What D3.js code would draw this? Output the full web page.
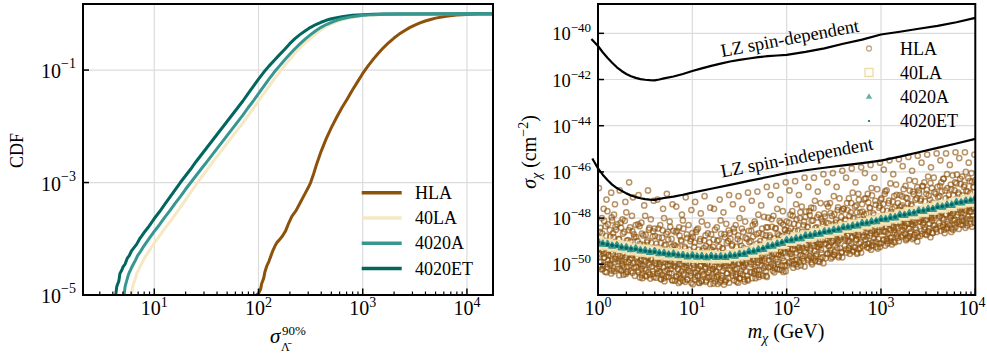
<!DOCTYPE html>
<html><head><meta charset="utf-8">
<script src="https://cdn.jsdelivr.net/npm/d3@7"></script>
<style>
body{margin:0;background:#fff}
svg{display:block}
text{font-family:"Liberation Serif","Times New Roman",serif;fill:#000}
</style>
</head><body>
<script>
// ---------------- DATA ----------------
const seriesNames = ["HLA", "40LA", "4020A", "4020ET"];
const seriesColors = ["#8c510a", "#f6e8c3", "#35978f", "#01665e"];

// Left panel: CDF curves as [log10(sigma90), log10(CDF)]
const cdfHLA = [[1.98,-5.0],[2.0,-4.97],[2.02,-4.9],[2.03,-4.8],[2.05,-4.7],[2.06,-4.6],[2.08,-4.48],[2.10,-4.4],[2.12,-4.3],[2.14,-4.2],[2.16,-4.12],[2.18,-4.06],[2.20,-4.02],[2.23,-3.95],[2.26,-3.86],[2.29,-3.72],[2.32,-3.6],[2.36,-3.5],[2.40,-3.36],[2.44,-3.22],[2.48,-3.08],[2.50,-3.0],[2.53,-2.84],[2.56,-2.66],[2.60,-2.45],[2.65,-2.22],[2.70,-2.02],[2.75,-1.84],[2.80,-1.67],[2.85,-1.52],[2.90,-1.36],[2.95,-1.21],[3.00,-1.06],[3.05,-0.93],[3.10,-0.81],[3.15,-0.70],[3.20,-0.60],[3.25,-0.51],[3.30,-0.43],[3.35,-0.36],[3.40,-0.30],[3.45,-0.245],[3.50,-0.20],[3.55,-0.16],[3.60,-0.127],[3.65,-0.10],[3.70,-0.076],[3.80,-0.043],[3.90,-0.022],[4.00,-0.01],[4.10,-0.004],[4.25,-0.001]];
const cdf40LA = [[0.78,-5.0],[0.79,-4.88],[0.80,-4.8],[0.82,-4.7],[0.83,-4.62],[0.85,-4.55],[0.87,-4.47],[0.89,-4.4],[0.92,-4.3],[0.95,-4.22],[0.98,-4.13],[1.01,-4.05],[1.05,-3.95],[1.10,-3.82],[1.15,-3.7],[1.20,-3.57],[1.25,-3.44],[1.30,-3.31],[1.35,-3.17],[1.40,-3.04],[1.45,-2.91],[1.50,-2.79],[1.55,-2.66],[1.60,-2.54],[1.65,-2.42],[1.70,-2.3],[1.75,-2.18],[1.80,-2.06],[1.85,-1.94],[1.90,-1.81],[1.95,-1.68],[2.00,-1.55],[2.05,-1.42],[2.10,-1.29],[2.15,-1.16],[2.20,-1.04],[2.25,-0.92],[2.30,-0.81],[2.35,-0.7],[2.40,-0.6],[2.45,-0.51],[2.50,-0.43],[2.55,-0.35],[2.60,-0.285],[2.65,-0.225],[2.70,-0.18],[2.75,-0.14],[2.80,-0.107],[2.90,-0.062],[3.00,-0.035],[3.10,-0.019],[3.20,-0.01],[3.35,-0.004],[3.6,-0.001],[4.25,0]];
const cdf4020A = [[0.71,-5.0],[0.72,-4.85],[0.73,-4.78],[0.75,-4.65],[0.76,-4.6],[0.78,-4.52],[0.80,-4.45],[0.82,-4.38],[0.84,-4.3],[0.87,-4.22],[0.90,-4.13],[0.93,-4.05],[0.96,-3.97],[1.00,-3.87],[1.05,-3.75],[1.10,-3.62],[1.15,-3.5],[1.20,-3.37],[1.25,-3.25],[1.30,-3.12],[1.35,-3.0],[1.40,-2.88],[1.45,-2.76],[1.50,-2.64],[1.55,-2.52],[1.60,-2.4],[1.65,-2.28],[1.70,-2.16],[1.75,-2.04],[1.80,-1.92],[1.85,-1.8],[1.90,-1.67],[1.95,-1.55],[2.00,-1.42],[2.05,-1.29],[2.10,-1.16],[2.15,-1.04],[2.20,-0.93],[2.25,-0.82],[2.30,-0.72],[2.35,-0.62],[2.40,-0.53],[2.45,-0.445],[2.50,-0.37],[2.55,-0.3],[2.60,-0.24],[2.65,-0.19],[2.70,-0.15],[2.75,-0.115],[2.80,-0.088],[2.90,-0.05],[3.00,-0.027],[3.10,-0.014],[3.20,-0.007],[3.35,-0.003],[3.6,-0.001],[4.25,0]];
const cdf4020ET = [[0.63,-5.0],[0.64,-4.85],[0.66,-4.75],[0.67,-4.62],[0.69,-4.55],[0.70,-4.5],[0.72,-4.45],[0.74,-4.35],[0.76,-4.3],[0.78,-4.22],[0.80,-4.17],[0.83,-4.1],[0.86,-4.0],[0.88,-3.95],[0.91,-3.87],[0.94,-3.8],[0.97,-3.72],[1.00,-3.64],[1.05,-3.52],[1.10,-3.39],[1.15,-3.26],[1.20,-3.13],[1.25,-3.0],[1.30,-2.88],[1.35,-2.76],[1.40,-2.63],[1.45,-2.51],[1.50,-2.39],[1.55,-2.27],[1.60,-2.15],[1.65,-2.03],[1.70,-1.91],[1.75,-1.79],[1.80,-1.67],[1.85,-1.55],[1.90,-1.42],[1.95,-1.29],[2.00,-1.16],[2.05,-1.04],[2.10,-0.93],[2.15,-0.83],[2.20,-0.73],[2.25,-0.635],[2.30,-0.53],[2.35,-0.44],[2.40,-0.365],[2.45,-0.3],[2.50,-0.24],[2.55,-0.19],[2.60,-0.15],[2.65,-0.115],[2.70,-0.087],[2.80,-0.05],[2.90,-0.027],[3.00,-0.014],[3.10,-0.007],[3.20,-0.003],[3.40,-0.001],[4.25,0]];

const leftXTickExps = [1, 2, 3, 4];
const leftYTickExps = [-1, -3, -5];
const rightXTickExps = [0, 1, 2, 3, 4];
const rightYTickExps = [-40, -42, -44, -46, -48, -50];

// Right panel: LZ limits as [log10(m GeV), log10(sigma cm^2)]
const lzSD = [[-0.07,-40.25],[0.0,-40.55],[0.05,-40.82],[0.1,-41.06],[0.15,-41.27],[0.2,-41.47],[0.25,-41.63],[0.3,-41.76],[0.35,-41.86],[0.4,-41.93],[0.45,-41.98],[0.5,-42.01],[0.55,-42.03],[0.6,-42.04],[0.65,-42.0],[0.7,-41.95],[0.8,-41.87],[0.9,-41.76],[1.0,-41.63],[1.1,-41.52],[1.2,-41.41],[1.3,-41.31],[1.4,-41.22],[1.5,-41.15],[1.6,-41.09],[1.7,-41.03],[1.8,-40.99],[1.9,-40.96],[2.0,-40.93],[2.2,-40.8],[2.4,-40.65],[2.6,-40.45],[2.8,-40.27],[3.0,-40.05],[3.2,-39.93],[3.4,-39.8],[3.6,-39.68],[3.8,-39.52],[4.0,-39.33]];
const lzSI = [[-0.06,-45.42],[0.0,-45.85],[0.05,-46.12],[0.1,-46.35],[0.15,-46.55],[0.2,-46.7],[0.25,-46.82],[0.3,-46.93],[0.35,-47.02],[0.4,-47.09],[0.45,-47.14],[0.5,-47.18],[0.55,-47.2],[0.6,-47.21],[0.65,-47.17],[0.7,-47.13],[0.8,-47.07],[0.9,-46.99],[1.0,-46.9],[1.2,-46.73],[1.4,-46.56],[1.6,-46.39],[1.8,-46.22],[2.0,-46.05],[2.2,-45.93],[2.4,-45.82],[2.6,-45.72],[2.8,-45.62],[3.0,-45.51],[3.2,-45.34],[3.4,-45.15],[3.6,-44.96],[3.8,-44.77],[4.0,-44.57]];

// Band series (40LA, 4020A, 4020ET): log10 mass grid and log10 sigma values
const bandLogM = [0,0.05,0.1,0.15,0.2,0.25,0.3,0.35,0.4,0.45,0.5,0.55,0.6,0.65,0.7,0.75,0.8,0.85,0.9,0.95,1,1.05,1.1,1.15,1.2,1.25,1.3,1.35,1.4,1.45,1.5,1.55,1.6,1.65,1.7,1.75,1.8,1.85,1.9,1.95,2,2.05,2.1,2.15,2.2,2.25,2.3,2.35,2.4,2.45,2.5,2.55,2.6,2.65,2.7,2.75,2.8,2.85,2.9,2.95,3,3.05,3.1,3.15,3.2,3.25,3.3,3.35,3.4,3.45,3.5,3.55,3.6,3.65,3.7,3.75,3.8,3.85,3.9,3.95,4];
const sig40LA = [-49.01,-49.15,-49.12,-49.22,-49.18,-49.28,-49.24,-49.38,-49.34,-49.43,-49.38,-49.47,-49.43,-49.56,-49.51,-49.60,-49.54,-49.62,-49.57,-49.69,-49.63,-49.70,-49.63,-49.70,-49.63,-49.73,-49.66,-49.71,-49.61,-49.64,-49.53,-49.59,-49.47,-49.48,-49.34,-49.34,-49.21,-49.24,-49.11,-49.10,-48.96,-48.97,-48.85,-48.90,-48.78,-48.79,-48.67,-48.68,-48.57,-48.62,-48.51,-48.52,-48.40,-48.41,-48.30,-48.35,-48.24,-48.25,-48.13,-48.14,-48.03,-48.09,-47.97,-47.99,-47.86,-47.88,-47.76,-47.82,-47.70,-47.72,-47.59,-47.61,-47.49,-47.55,-47.43,-47.45,-47.32,-47.34,-47.22,-47.28,-47.16];
const sig4020A = [-49.03,-49.12,-49.13,-49.21,-49.19,-49.28,-49.28,-49.36,-49.33,-49.41,-49.41,-49.48,-49.45,-49.53,-49.52,-49.59,-49.55,-49.62,-49.61,-49.67,-49.62,-49.68,-49.66,-49.71,-49.65,-49.70,-49.67,-49.70,-49.62,-49.64,-49.57,-49.57,-49.46,-49.46,-49.37,-49.35,-49.23,-49.21,-49.12,-49.09,-48.97,-48.97,-48.89,-48.88,-48.77,-48.77,-48.70,-48.69,-48.59,-48.59,-48.52,-48.51,-48.41,-48.41,-48.34,-48.33,-48.23,-48.23,-48.16,-48.15,-48.05,-48.06,-47.98,-47.98,-47.87,-47.88,-47.80,-47.80,-47.69,-47.70,-47.62,-47.62,-47.51,-47.52,-47.44,-47.44,-47.33,-47.34,-47.26,-47.26,-47.15];
const sig4020ET = [-49.05,-49.10,-49.15,-49.18,-49.21,-49.26,-49.30,-49.33,-49.35,-49.39,-49.43,-49.45,-49.47,-49.51,-49.54,-49.56,-49.57,-49.60,-49.63,-49.64,-49.64,-49.66,-49.68,-49.68,-49.67,-49.68,-49.69,-49.67,-49.64,-49.62,-49.59,-49.54,-49.48,-49.44,-49.39,-49.32,-49.25,-49.19,-49.14,-49.06,-48.99,-48.95,-48.91,-48.85,-48.79,-48.75,-48.72,-48.66,-48.61,-48.57,-48.54,-48.48,-48.43,-48.39,-48.36,-48.30,-48.25,-48.21,-48.18,-48.12,-48.07,-48.04,-48.00,-47.95,-47.89,-47.86,-47.82,-47.77,-47.71,-47.68,-47.64,-47.59,-47.53,-47.50,-47.46,-47.41,-47.35,-47.32,-47.28,-47.23,-47.17];

// HLA scatter: [log10(m GeV), log10(sigma cm^2)]
const hlaPoints = [
[0.01,-49.5],[0.03,-49.9],[0.05,-50.2],[0.07,-49.7],[0.09,-50.35],[0.11,-49.6],[0.13,-50.05],[0.15,-49.8],[0.17,-50.3],[0.19,-49.45],[0.02,-50.1],[0.06,-49.55],[0.10,-50.0],[0.14,-50.4],[0.18,-49.9],[0.12,-49.35],
[0.02,-48.6],[0.04,-48.0],[0.08,-48.35],[0.10,-47.7],[0.13,-48.8],[0.15,-48.1],[0.17,-47.85],[0.19,-48.5],[0.06,-47.6],[0.16,-48.65],
[0.01,-46.7],[0.09,-47.2],[0.14,-46.9],[0.18,-47.4],
[0.21,-49.6],[0.23,-50.2],[0.25,-49.85],[0.27,-50.45],[0.29,-49.7],[0.31,-50.1],[0.33,-49.55],[0.35,-50.3],[0.37,-49.95],[0.39,-50.5],[0.22,-49.75],[0.26,-50.05],[0.30,-50.35],[0.34,-49.8],[0.38,-50.15],[0.36,-49.6],
[0.22,-48.9],[0.24,-48.2],[0.28,-48.6],[0.30,-47.75],[0.32,-48.95],[0.34,-48.4],[0.36,-47.9],[0.38,-48.7],[0.26,-48.05],[0.40,-48.3],
[0.23,-46.8],[0.29,-47.3],[0.33,-46.45],[0.37,-47.1],
[0.41,-49.75],[0.43,-50.35],[0.45,-50.0],[0.47,-50.6],[0.49,-49.8],[0.51,-50.25],[0.53,-49.7],[0.55,-50.45],[0.57,-50.1],[0.59,-50.55],[0.42,-49.9],[0.46,-50.2],[0.50,-50.5],[0.54,-49.95],[0.58,-50.3],[0.56,-49.75],
[0.42,-49.0],[0.44,-48.35],[0.48,-48.75],[0.50,-47.9],[0.52,-49.05],[0.54,-48.5],[0.56,-48.05],[0.58,-48.8],[0.46,-48.2],[0.60,-48.45],
[0.43,-47.0],[0.49,-47.45],[0.53,-46.8],[0.59,-47.25],
[0.61,-49.85],[0.63,-50.4],[0.65,-50.1],[0.67,-50.65],[0.69,-49.9],[0.71,-50.3],[0.73,-49.8],[0.75,-50.55],[0.77,-50.2],[0.79,-50.7],[0.62,-50.0],[0.66,-50.35],[0.70,-50.6],[0.74,-50.05],[0.78,-50.4],[0.76,-49.85],
[0.62,-49.1],[0.64,-48.45],[0.68,-48.85],[0.70,-48.0],[0.72,-49.15],[0.74,-48.6],[0.76,-48.15],[0.78,-48.9],[0.66,-48.3],[0.80,-48.55],
[0.63,-47.2],[0.69,-47.6],[0.73,-46.95],[0.79,-47.4],
[0.81,-49.95],[0.83,-50.5],[0.85,-50.2],[0.87,-50.75],[0.89,-50.0],[0.91,-50.4],[0.93,-49.9],[0.95,-50.65],[0.97,-50.3],[0.99,-50.8],[0.82,-50.1],[0.86,-50.45],[0.90,-50.7],[0.94,-50.15],[0.98,-50.5],[0.96,-49.95],
[0.82,-49.2],[0.84,-48.55],[0.88,-48.95],[0.90,-48.1],[0.92,-49.25],[0.94,-48.7],[0.96,-48.3],[0.98,-49.0],[0.86,-48.4],[1.00,-48.65],
[0.83,-47.5],[0.89,-47.85],[0.93,-47.1],[0.99,-47.65],
[1.01,-50.0],[1.03,-50.55],[1.05,-50.25],[1.07,-50.8],[1.09,-50.05],[1.11,-50.45],[1.13,-49.95],[1.15,-50.7],[1.17,-50.35],[1.19,-50.85],[1.02,-50.15],[1.06,-50.5],[1.10,-50.75],[1.14,-50.2],[1.18,-50.55],[1.16,-50.0],
[1.02,-49.25],[1.04,-48.6],[1.08,-49.0],[1.10,-48.15],[1.12,-49.3],[1.14,-48.75],[1.16,-48.3],[1.18,-49.05],[1.06,-48.45],[1.20,-48.7],
[1.03,-47.3],[1.09,-47.8],[1.13,-47.05],[1.19,-47.55],
[1.21,-50.05],[1.23,-50.6],[1.25,-50.3],[1.27,-50.85],[1.29,-50.0],[1.31,-50.5],[1.33,-49.95],[1.35,-50.75],[1.37,-50.4],[1.39,-50.8],[1.22,-50.2],[1.26,-50.55],[1.30,-50.7],[1.34,-50.15],[1.38,-50.6],[1.36,-50.05],
[1.22,-49.25],[1.24,-48.5],[1.28,-48.95],[1.30,-48.1],[1.32,-49.3],[1.34,-48.7],[1.36,-48.25],[1.38,-49.0],[1.26,-48.4],[1.40,-48.65],
[1.23,-47.6],[1.29,-47.2],[1.33,-47.75],[1.39,-47.0],
[1.41,-49.95],[1.43,-50.5],[1.45,-50.2],[1.47,-50.75],[1.49,-49.95],[1.51,-50.4],[1.53,-49.9],[1.55,-50.65],[1.57,-50.3],[1.59,-50.7],[1.42,-50.1],[1.46,-50.45],[1.50,-50.6],[1.54,-50.05],[1.58,-50.5],[1.56,-49.95],
[1.42,-49.2],[1.44,-48.45],[1.48,-48.9],[1.50,-48.0],[1.52,-49.2],[1.54,-48.6],[1.56,-48.15],[1.58,-48.9],[1.46,-48.3],[1.60,-48.55],
[1.43,-47.4],[1.49,-47.05],[1.53,-47.6],[1.59,-46.9],
[1.61,-49.75],[1.63,-50.35],[1.65,-50.0],[1.67,-50.6],[1.69,-49.8],[1.71,-50.25],[1.73,-49.7],[1.75,-50.5],[1.77,-50.1],[1.79,-50.55],[1.62,-49.9],[1.66,-50.3],[1.70,-50.45],[1.74,-49.85],[1.78,-50.3],[1.76,-49.75],
[1.62,-49.0],[1.64,-48.3],[1.68,-48.7],[1.70,-47.85],[1.72,-49.0],[1.74,-48.45],[1.76,-47.95],[1.78,-48.75],[1.66,-48.15],[1.80,-48.4],
[1.63,-47.25],[1.69,-46.85],[1.73,-47.45],[1.79,-46.65],
[1.81,-49.5],[1.83,-50.1],[1.85,-49.75],[1.87,-50.35],[1.89,-49.55],[1.91,-50.0],[1.93,-49.45],[1.95,-50.25],[1.97,-49.85],[1.99,-50.3],[1.82,-49.65],[1.86,-50.05],[1.90,-50.2],[1.94,-49.6],[1.98,-50.05],[1.96,-49.5],
[1.82,-48.75],[1.84,-48.05],[1.88,-48.45],[1.90,-47.6],[1.92,-48.75],[1.94,-48.2],[1.96,-47.7],[1.98,-48.5],[1.86,-47.9],[2.00,-48.15],
[1.83,-47.0],[1.89,-46.6],[1.93,-47.2],[1.99,-46.45],
[2.01,-49.3],[2.03,-49.9],[2.05,-49.55],[2.07,-50.15],[2.09,-49.35],[2.11,-49.8],[2.13,-49.25],[2.15,-50.05],[2.17,-49.65],[2.19,-50.1],[2.02,-49.45],[2.06,-49.85],[2.10,-50.0],[2.14,-49.4],[2.18,-49.85],[2.16,-49.3],
[2.02,-48.55],[2.04,-47.85],[2.08,-48.25],[2.10,-47.4],[2.12,-48.55],[2.14,-48.0],[2.16,-47.5],[2.18,-48.3],[2.06,-47.7],[2.20,-47.95],
[2.03,-46.8],[2.09,-46.4],[2.13,-47.0],[2.19,-46.25],
[2.21,-49.15],[2.23,-49.75],[2.25,-49.4],[2.27,-50.0],[2.29,-49.2],[2.31,-49.65],[2.33,-49.1],[2.35,-49.9],[2.37,-49.5],[2.39,-49.95],[2.22,-49.3],[2.26,-49.7],[2.30,-49.85],[2.34,-49.25],[2.38,-49.7],[2.36,-49.15],
[2.22,-48.4],[2.24,-47.7],[2.28,-48.1],[2.30,-47.25],[2.32,-48.4],[2.34,-47.85],[2.36,-47.35],[2.38,-48.15],[2.26,-47.55],[2.40,-47.8],
[2.23,-46.65],[2.29,-46.25],[2.33,-46.85],[2.39,-46.1],
[2.41,-48.95],[2.43,-49.55],[2.45,-49.2],[2.47,-49.75],[2.49,-49.0],[2.51,-49.45],[2.53,-48.9],[2.55,-49.7],[2.57,-49.3],[2.59,-49.7],[2.42,-49.1],[2.46,-49.5],[2.50,-49.6],[2.54,-49.05],[2.58,-49.5],[2.56,-48.95],
[2.42,-48.2],[2.44,-47.5],[2.48,-47.9],[2.50,-47.05],[2.52,-48.2],[2.54,-47.65],[2.56,-47.15],[2.58,-47.95],[2.46,-47.35],[2.60,-47.6],
[2.43,-46.45],[2.49,-46.05],[2.53,-46.65],[2.59,-45.95],
[2.61,-48.8],[2.63,-49.35],[2.65,-49.0],[2.67,-49.55],[2.69,-48.85],[2.71,-49.25],[2.73,-48.75],[2.75,-49.5],[2.77,-49.1],[2.79,-49.5],[2.62,-48.95],[2.66,-49.3],[2.70,-49.4],[2.74,-48.9],[2.78,-49.3],[2.76,-48.8],
[2.62,-48.05],[2.64,-47.35],[2.68,-47.75],[2.70,-46.9],[2.72,-48.0],[2.74,-47.45],[2.76,-46.95],[2.78,-47.75],[2.66,-47.15],[2.80,-47.4],
[2.63,-46.25],[2.69,-45.85],[2.73,-46.45],[2.79,-45.8],
[2.81,-48.6],[2.83,-49.15],[2.85,-48.8],[2.87,-49.3],[2.89,-48.65],[2.91,-49.05],[2.93,-48.55],[2.95,-49.25],[2.97,-48.9],[2.99,-49.25],[2.82,-48.75],[2.86,-49.1],[2.90,-49.2],[2.94,-48.7],[2.98,-49.1],[2.96,-48.6],
[2.82,-47.85],[2.84,-47.15],[2.88,-47.55],[2.90,-46.7],[2.92,-47.8],[2.94,-47.25],[2.96,-46.75],[2.98,-47.55],[2.86,-46.95],[3.00,-47.2],
[2.83,-46.05],[2.89,-45.7],[2.93,-46.25],[2.99,-45.6],
[3.01,-48.4],[3.03,-48.95],[3.05,-48.6],[3.07,-49.1],[3.09,-48.45],[3.11,-48.85],[3.13,-48.35],[3.15,-49.05],[3.17,-48.7],[3.19,-49.0],[3.02,-48.55],[3.06,-48.9],[3.10,-49.0],[3.14,-48.5],[3.18,-48.85],[3.16,-48.4],
[3.02,-47.65],[3.04,-46.95],[3.08,-47.35],[3.10,-46.5],[3.12,-47.6],[3.14,-47.05],[3.16,-46.55],[3.18,-47.35],[3.06,-46.8],[3.20,-47.0],
[3.03,-45.9],[3.09,-45.5],[3.13,-46.1],[3.19,-45.45],
[3.21,-48.2],[3.23,-48.75],[3.25,-48.4],[3.27,-48.9],[3.29,-48.25],[3.31,-48.65],[3.33,-48.15],[3.35,-48.85],[3.37,-48.5],[3.39,-48.8],[3.22,-48.35],[3.26,-48.7],[3.30,-48.8],[3.34,-48.3],[3.38,-48.65],[3.36,-48.2],
[3.22,-47.45],[3.24,-46.75],[3.28,-47.15],[3.30,-46.35],[3.32,-47.4],[3.34,-46.85],[3.36,-46.4],[3.38,-47.15],[3.26,-46.6],[3.40,-46.8],
[3.23,-45.75],[3.29,-45.35],[3.33,-45.95],[3.39,-45.3],
[3.41,-48.0],[3.43,-48.55],[3.45,-48.2],[3.47,-48.7],[3.49,-48.05],[3.51,-48.45],[3.53,-47.95],[3.55,-48.65],[3.57,-48.3],[3.59,-48.6],[3.42,-48.15],[3.46,-48.5],[3.50,-48.6],[3.54,-48.1],[3.58,-48.45],[3.56,-48.0],
[3.42,-47.25],[3.44,-46.6],[3.48,-46.95],[3.50,-46.2],[3.52,-47.2],[3.54,-46.7],[3.56,-46.25],[3.58,-46.95],[3.46,-46.45],[3.60,-46.65],
[3.43,-45.6],[3.49,-45.25],[3.53,-45.8],[3.59,-45.2],
[3.61,-47.8],[3.63,-48.35],[3.65,-48.0],[3.67,-48.5],[3.69,-47.85],[3.71,-48.25],[3.73,-47.75],[3.75,-48.45],[3.77,-48.1],[3.79,-48.4],[3.62,-47.95],[3.66,-48.3],[3.70,-48.4],[3.74,-47.9],[3.78,-48.25],[3.76,-47.8],
[3.62,-47.05],[3.64,-46.45],[3.68,-46.8],[3.70,-46.1],[3.72,-47.0],[3.74,-46.55],[3.76,-46.15],[3.78,-46.8],[3.66,-46.3],[3.80,-46.5],
[3.63,-45.5],[3.69,-45.2],[3.73,-45.7],[3.79,-45.15],
[3.81,-47.6],[3.83,-48.15],[3.85,-47.8],[3.87,-48.3],[3.89,-47.65],[3.91,-48.05],[3.93,-47.55],[3.95,-48.25],[3.97,-47.9],[3.99,-48.2],[3.82,-47.75],[3.86,-48.1],[3.90,-48.2],[3.94,-47.7],[3.98,-48.05],[3.96,-47.6],
[3.82,-46.9],[3.84,-46.3],[3.88,-46.65],[3.90,-46.0],[3.92,-46.85],[3.94,-46.4],[3.96,-46.05],[3.98,-46.65],[3.86,-46.2],[4.00,-46.35],
[3.83,-45.4],[3.89,-45.15],[3.93,-45.6],[3.99,-45.25]
];
// further HLA points (near-band region)
const hlaPointsMore = [
[0.005,-49.32],[0.015,-49.89],[0.025,-49.57],[0.035,-50.22],[0.045,-49.42],[0.055,-50.05],[0.065,-49.72],[0.075,-50.32],[0.085,-49.49],[0.095,-50.12],[0.105,-49.82],[0.115,-49.37],[0.125,-49.97],[0.135,-49.65],[0.145,-50.27],[0.155,-49.54],[0.165,-50.17],[0.185,-49.77],
[0.005,-48.87],[0.025,-48.42],[0.045,-48.67],[0.065,-48.12],[0.085,-48.77],[0.105,-48.27],[0.125,-48.52],[0.145,-47.97],[0.165,-48.82],[0.185,-48.37],
[0.205,-50.20],[0.215,-49.87],[0.225,-50.47],[0.235,-49.64],[0.245,-50.27],[0.255,-49.97],[0.265,-49.52],[0.275,-50.12],[0.285,-49.80],[0.295,-50.42],[0.305,-49.69],[0.315,-50.32],[0.325,-49.92],[0.335,-49.47],[0.345,-50.04],[0.355,-49.72],[0.365,-50.37],[0.385,-49.57],
[0.205,-48.27],[0.225,-48.92],[0.245,-48.42],[0.265,-48.67],[0.285,-48.12],[0.305,-48.97],[0.325,-48.52],[0.345,-49.02],[0.365,-48.57],[0.385,-48.82],
[0.405,-50.12],[0.415,-49.67],[0.425,-50.27],[0.435,-49.95],[0.445,-50.57],[0.455,-49.84],[0.465,-50.47],[0.475,-50.07],[0.485,-49.62],[0.495,-50.19],[0.505,-49.87],[0.515,-50.52],[0.525,-49.72],[0.535,-50.35],[0.545,-50.02],[0.555,-50.62],[0.565,-49.79],[0.585,-50.42],
[0.405,-48.82],[0.425,-48.27],[0.445,-49.12],[0.465,-48.67],[0.485,-49.17],[0.505,-48.72],[0.525,-48.97],[0.545,-48.42],[0.565,-49.07],[0.585,-48.57],
[0.605,-49.95],[0.615,-50.58],[0.625,-50.18],[0.635,-49.73],[0.645,-50.30],[0.655,-49.98],[0.665,-50.63],[0.675,-49.83],[0.685,-50.46],[0.695,-50.13],[0.705,-50.73],[0.715,-49.90],[0.725,-50.53],[0.735,-50.23],[0.745,-49.78],[0.755,-50.38],[0.765,-50.06],[0.785,-50.68],
[0.605,-48.78],[0.625,-49.28],[0.645,-48.83],[0.665,-49.08],[0.685,-48.53],[0.705,-49.18],[0.725,-48.68],[0.745,-48.93],[0.765,-48.38],[0.785,-49.23],
[0.805,-50.06],[0.815,-50.71],[0.825,-49.91],[0.835,-50.54],[0.845,-50.21],[0.855,-50.81],[0.865,-49.98],[0.875,-50.61],[0.885,-50.31],[0.895,-49.86],[0.905,-50.46],[0.915,-50.14],[0.925,-50.76],[0.935,-50.03],[0.945,-50.66],[0.955,-50.26],[0.965,-49.81],[0.985,-50.38],
[0.805,-49.16],[0.825,-48.61],[0.845,-49.26],[0.865,-48.76],[0.885,-49.01],[0.905,-48.46],[0.925,-49.31],[0.945,-48.86],[0.965,-49.36],[0.985,-48.91],
[1.005,-50.86],[1.015,-50.03],[1.025,-50.66],[1.035,-50.36],[1.045,-49.91],[1.055,-50.51],[1.065,-50.19],[1.075,-50.81],[1.085,-50.08],[1.095,-50.71],[1.105,-50.31],[1.115,-49.86],[1.125,-50.43],[1.135,-50.11],[1.145,-50.76],[1.155,-49.96],[1.165,-50.59],[1.185,-50.26],
[1.005,-48.81],[1.025,-49.06],[1.045,-48.51],[1.065,-49.36],[1.085,-48.91],[1.105,-49.41],[1.125,-48.96],[1.145,-49.21],[1.165,-48.66],[1.185,-49.31],
[1.205,-50.53],[1.215,-50.21],[1.225,-50.83],[1.235,-50.10],[1.245,-50.73],[1.255,-50.33],[1.265,-49.88],[1.275,-50.45],[1.285,-50.13],[1.295,-50.78],[1.305,-49.98],[1.315,-50.61],[1.325,-50.28],[1.335,-50.88],[1.345,-50.05],[1.355,-50.68],[1.365,-50.38],[1.385,-49.93],
[1.205,-49.38],[1.225,-48.93],[1.245,-49.43],[1.265,-48.98],[1.285,-49.23],[1.305,-48.68],[1.325,-49.33],[1.345,-48.83],[1.365,-49.08],[1.385,-48.53],
[1.405,-50.25],[1.415,-49.80],[1.425,-50.37],[1.435,-50.05],[1.445,-50.70],[1.455,-49.90],[1.465,-50.53],[1.475,-50.20],[1.485,-50.80],[1.495,-49.97],[1.505,-50.60],[1.515,-50.30],[1.525,-49.85],[1.535,-50.45],[1.545,-50.13],[1.555,-50.75],[1.565,-50.02],[1.585,-50.65],
[1.405,-48.90],[1.425,-49.15],[1.445,-48.60],[1.465,-49.25],[1.485,-48.75],[1.505,-49.00],[1.525,-48.45],[1.545,-49.30],[1.565,-48.85],[1.585,-49.35],
[1.605,-49.70],[1.615,-50.33],[1.625,-50.00],[1.635,-50.60],[1.645,-49.77],[1.655,-50.40],[1.665,-50.10],[1.675,-49.65],[1.685,-50.25],[1.695,-49.93],[1.705,-50.55],[1.715,-49.82],[1.725,-50.45],[1.735,-50.05],[1.745,-49.60],[1.755,-50.17],[1.765,-49.85],[1.785,-50.50],
[1.605,-49.05],[1.625,-48.55],[1.645,-48.80],[1.665,-48.25],[1.685,-49.10],[1.705,-48.65],[1.725,-49.15],[1.745,-48.70],[1.765,-48.95],[1.785,-48.40],
[1.805,-50.13],[1.815,-49.83],[1.825,-49.38],[1.835,-49.98],[1.845,-49.66],[1.855,-50.28],[1.865,-49.55],[1.875,-50.18],[1.885,-49.78],[1.895,-49.33],[1.905,-49.90],[1.915,-49.58],[1.925,-50.23],[1.935,-49.43],[1.945,-50.06],[1.955,-49.73],[1.965,-50.33],[1.985,-49.50],
[1.805,-47.98],[1.825,-48.83],[1.845,-48.38],[1.865,-48.88],[1.885,-48.43],[1.905,-48.68],[1.925,-48.13],[1.945,-48.78],[1.965,-48.28],[1.985,-48.53],
[2.005,-50.05],[2.015,-49.32],[2.025,-49.95],[2.035,-49.55],[2.045,-49.10],[2.055,-49.67],[2.065,-49.35],[2.075,-50.00],[2.085,-49.20],[2.095,-49.83],[2.105,-49.50],[2.115,-50.10],[2.125,-49.27],[2.135,-49.90],[2.145,-49.60],[2.155,-49.15],[2.165,-49.75],[2.185,-49.43],
[2.005,-48.65],[2.025,-48.20],[2.045,-48.45],[2.065,-47.90],[2.085,-48.55],[2.105,-48.05],[2.125,-48.30],[2.145,-47.75],[2.165,-48.60],[2.185,-48.15],
[2.205,-49.49],[2.215,-49.17],[2.225,-49.82],[2.235,-49.02],[2.245,-49.65],[2.255,-49.32],[2.265,-49.92],[2.275,-49.09],[2.285,-49.72],[2.295,-49.42],[2.305,-48.97],[2.315,-49.57],[2.325,-49.25],[2.335,-49.87],[2.345,-49.14],[2.355,-49.77],[2.365,-49.37],[2.385,-48.92],
[2.205,-47.72],[2.225,-48.37],[2.245,-47.87],[2.265,-48.12],[2.285,-47.57],[2.305,-48.42],[2.325,-47.97],[2.345,-48.47],[2.365,-48.02],[2.385,-48.27],
[2.405,-49.13],[2.415,-49.73],[2.425,-48.90],[2.435,-49.53],[2.445,-49.23],[2.455,-48.78],[2.465,-49.38],[2.475,-49.06],[2.485,-49.68],[2.495,-48.95],[2.505,-49.58],[2.515,-49.18],[2.525,-48.73],[2.535,-49.30],[2.545,-48.98],[2.555,-49.63],[2.565,-48.83],[2.585,-49.46],
[2.405,-47.93],[2.425,-47.38],[2.445,-48.23],[2.465,-47.78],[2.485,-48.28],[2.505,-47.83],[2.525,-48.08],[2.545,-47.53],[2.565,-48.18],[2.585,-47.68],
[2.605,-48.60],[2.615,-49.20],[2.625,-48.88],[2.635,-49.50],[2.645,-48.77],[2.655,-49.40],[2.665,-49.00],[2.675,-48.55],[2.685,-49.12],[2.695,-48.80],[2.705,-49.45],[2.715,-48.65],[2.725,-49.28],[2.735,-48.95],[2.745,-49.55],[2.755,-48.72],[2.765,-49.35],[2.785,-49.05],
[2.605,-47.60],[2.625,-48.10],[2.645,-47.65],[2.665,-47.90],[2.685,-47.35],[2.705,-48.00],[2.725,-47.50],[2.745,-47.75],[2.765,-47.20],[2.785,-48.05],
[2.805,-49.22],[2.815,-48.82],[2.825,-48.37],[2.835,-48.94],[2.845,-48.62],[2.855,-49.27],[2.865,-48.47],[2.875,-49.10],[2.885,-48.77],[2.895,-49.37],[2.905,-48.54],[2.915,-49.17],[2.925,-48.87],[2.935,-48.42],[2.945,-49.02],[2.955,-48.70],[2.965,-49.32],[2.985,-48.59],
[2.805,-47.72],[2.825,-47.17],[2.845,-47.82],[2.865,-47.32],[2.885,-47.57],[2.905,-47.02],[2.925,-47.87],[2.945,-47.42],[2.965,-47.92],[2.985,-47.47],
[3.005,-49.09],[3.015,-48.29],[3.025,-48.92],[3.035,-48.59],[3.045,-49.19],[3.055,-48.36],[3.065,-48.99],[3.075,-48.69],[3.085,-48.24],[3.095,-48.84],[3.105,-48.52],[3.115,-49.14],[3.125,-48.41],[3.135,-49.04],[3.145,-48.64],[3.155,-48.19],[3.165,-48.76],[3.185,-48.44],
[3.005,-47.14],[3.025,-47.39],[3.045,-46.84],[3.065,-47.69],[3.085,-47.24],[3.105,-47.74],[3.125,-47.29],[3.145,-47.54],[3.165,-46.99],[3.185,-47.64],
[3.205,-48.18],[3.215,-48.81],[3.225,-48.51],[3.235,-48.06],[3.245,-48.66],[3.255,-48.34],[3.265,-48.96],[3.275,-48.23],[3.285,-48.86],[3.295,-48.46],[3.305,-48.01],[3.315,-48.58],[3.325,-48.26],[3.335,-48.91],[3.345,-48.11],[3.355,-48.74],[3.365,-48.41],[3.385,-49.01],
[3.205,-47.51],[3.225,-47.06],[3.245,-47.56],[3.265,-47.11],[3.285,-47.36],[3.305,-46.81],[3.325,-47.46],[3.345,-46.96],[3.365,-47.21],[3.385,-46.66],
[3.405,-48.16],[3.415,-48.78],[3.425,-48.05],[3.435,-48.68],[3.445,-48.28],[3.455,-47.83],[3.465,-48.40],[3.475,-48.08],[3.485,-48.73],[3.495,-47.93],[3.505,-48.56],[3.515,-48.23],[3.525,-48.83],[3.535,-48.00],[3.545,-48.63],[3.555,-48.33],[3.565,-47.88],[3.585,-48.48],
[3.405,-46.93],[3.425,-47.18],[3.445,-46.63],[3.465,-47.28],[3.485,-46.78],[3.505,-47.03],[3.525,-46.48],[3.545,-47.33],[3.565,-46.88],[3.585,-47.38],
[3.605,-47.65],[3.615,-48.22],[3.625,-47.90],[3.635,-48.55],[3.645,-47.75],[3.655,-48.38],[3.665,-48.05],[3.675,-48.65],[3.685,-47.82],[3.695,-48.45],[3.705,-48.15],[3.715,-47.70],[3.725,-48.30],[3.735,-47.98],[3.745,-48.60],[3.755,-47.87],[3.765,-48.50],[3.785,-48.10],
[3.605,-47.10],[3.625,-46.60],[3.645,-46.85],[3.665,-46.30],[3.685,-47.15],[3.705,-46.70],[3.725,-47.20],[3.745,-46.75],[3.765,-47.00],[3.785,-46.45],
[3.805,-48.20],[3.815,-47.87],[3.825,-48.47],[3.835,-47.64],[3.845,-48.27],[3.855,-47.97],[3.865,-47.52],[3.875,-48.12],[3.885,-47.80],[3.895,-48.42],[3.905,-47.69],[3.915,-48.32],[3.925,-47.92],[3.935,-47.47],[3.945,-48.04],[3.955,-47.72],[3.965,-48.37],[3.985,-47.57],
[3.805,-46.12],[3.825,-46.97],[3.845,-46.52],[3.865,-47.02],[3.885,-46.57],[3.905,-46.82],[3.925,-46.27],[3.945,-46.92],[3.965,-46.42],[3.985,-46.67]
];

// ---------------- DRAW ----------------
const svg = d3.select("body").append("svg").attr("width", 987).attr("height", 355);
const defs = svg.append("defs");
const p10 = v => Math.pow(10, v);
const GRID = "#dcdcdc";

function supText(g, x, y, exp, anchor, fs, ss, dy) {
  const t = g.append("text").attr("x", x).attr("y", y).attr("text-anchor", anchor).attr("font-size", fs);
  t.append("tspan").text("10");
  t.append("tspan").attr("dy", -dy).attr("font-size", ss).text(String(exp).replace("-", "\u2212"));
  return t;
}

// ===== LEFT PANEL =====
const xL = d3.scaleLog().domain([p10(0.316), p10(4.25)]).range([83, 493]);
const yL = d3.scaleLog().domain([1e-5, p10(0.175)]).range([295, 4]);
const [lx0, lx1] = xL.range(), [ly1, ly0] = yL.range();
defs.append("clipPath").attr("id", "clipL").append("rect")
  .attr("x", lx0).attr("y", ly0).attr("width", lx1 - lx0).attr("height", ly1 - ly0);
const gL = svg.append("g");
gL.selectAll(".gx").data(leftXTickExps).join("line")
  .attr("x1", d => xL(p10(d))).attr("x2", d => xL(p10(d))).attr("y1", ly0).attr("y2", ly1)
  .attr("stroke", GRID).attr("stroke-width", 1.2);
gL.selectAll(".gy").data(leftYTickExps).join("line")
  .attr("x1", lx0).attr("x2", lx1).attr("y1", d => yL(p10(d))).attr("y2", d => yL(p10(d)))
  .attr("stroke", GRID).attr("stroke-width", 1.2);

const lineL = d3.line().x(d => xL(p10(d[0]))).y(d => yL(p10(d[1])));
const cdfData = [cdfHLA, cdf40LA, cdf4020A, cdf4020ET];
const drawOrder = [0, 1, 3, 2];
const gCurves = gL.append("g").attr("clip-path", "url(#clipL)");
drawOrder.forEach(i => {
  gCurves.append("path").attr("d", lineL(cdfData[i])).attr("fill", "none")
    .attr("stroke", seriesColors[i]).attr("stroke-width", 3).attr("stroke-linejoin", "round");
});

// legend left
const legL = gL.append("g");
seriesNames.forEach((n, i) => {
  const y = 192.7 + i * 25.3;
  legL.append("line").attr("x1", 361.7).attr("x2", 401.7).attr("y1", y).attr("y2", y)
    .attr("stroke", seriesColors[i]).attr("stroke-width", 3.5);
  legL.append("text").attr("x", 415).attr("y", y + 6).attr("font-size", 18).text(n);
});

// spines & ticks
gL.append("rect").attr("x", lx0).attr("y", ly0).attr("width", lx1 - lx0).attr("height", ly1 - ly0)
  .attr("fill", "none").attr("stroke", "#000").attr("stroke-width", 2);
leftYTickExps.forEach(e => {
  const y = yL(p10(e));
  gL.append("line").attr("x1", lx0).attr("x2", lx0 + 6).attr("y1", y).attr("y2", y).attr("stroke", "#000").attr("stroke-width", 1.5);
  supText(gL, lx0 - 7, y + 8, e, "end", 20, 14, 10);
});
for (let d = 0; d <= 4; d++) {
  for (let k = 2; k <= 9; k++) {
    const v = k * p10(d);
    if (v < xL.domain()[0] || v > xL.domain()[1]) continue;
    gL.append("line").attr("x1", xL(v)).attr("x2", xL(v)).attr("y1", ly1).attr("y2", ly1 - 3.5).attr("stroke", "#000").attr("stroke-width", 1.2);
  }
}
leftXTickExps.forEach(e => {
  const x = xL(p10(e));
  gL.append("line").attr("x1", x).attr("x2", x).attr("y1", ly1).attr("y2", ly1 - 6.5).attr("stroke", "#000").attr("stroke-width", 1.5);
  supText(gL, x, 315, e, "middle", 20, 14, 8);
});
// axis labels
gL.append("text").attr("transform", "translate(22.5,150.5) rotate(-90)").attr("text-anchor", "middle").attr("font-size", 18).text("CDF");
const xlab = gL.append("g");
xlab.append("text").attr("x", 270).attr("y", 343).attr("font-size", 21).attr("font-style", "italic").text("\u03c3");
xlab.append("text").attr("x", 282).attr("y", 335).attr("font-size", 13).text("90%");
xlab.append("text").attr("x", 281).attr("y", 351).attr("font-size", 12).text("\u039b\u0304");

// ===== RIGHT PANEL =====
const xR = d3.scaleLog().domain([1, 1e4]).range([598, 975.3]);
const yR = d3.scaleLog().domain([p10(-51.33), p10(-38.73)]).range([295, 4]);
const [rx0, rx1] = xR.range(), [ry1, ry0] = yR.range();
defs.append("clipPath").attr("id", "clipR").append("rect")
  .attr("x", rx0).attr("y", ry0).attr("width", rx1 - rx0).attr("height", ry1 - ry0);
const gR = svg.append("g");
gR.selectAll(".gx").data(rightXTickExps).join("line")
  .attr("x1", d => xR(p10(d))).attr("x2", d => xR(p10(d))).attr("y1", ry0).attr("y2", ry1)
  .attr("stroke", GRID).attr("stroke-width", 1.2);
gR.selectAll(".gy").data(rightYTickExps).join("line")
  .attr("x1", rx0).attr("x2", rx1).attr("y1", d => yR(p10(d))).attr("y2", d => yR(p10(d)))
  .attr("stroke", GRID).attr("stroke-width", 1.2);

const gS = gR.append("g").attr("clip-path", "url(#clipR)");
gS.selectAll("circle.hla").data(hlaPoints.concat(hlaPointsMore)).join("circle").attr("class", "hla")
  .attr("cx", d => xR(p10(d[0]))).attr("cy", d => yR(p10(d[1]))).attr("r", 2.6)
  .attr("fill", "none").attr("stroke", seriesColors[0]).attr("stroke-width", 1.5).attr("stroke-opacity", 0.62);

const sq = d3.symbol().type(d3.symbolSquare).size(100);
const tri = d3.symbol().type(d3.symbolTriangle).size(16);
gS.selectAll("path.la40").data(bandLogM).join("path").attr("class", "la40")
  .attr("transform", (d, i) => `translate(${xR(p10(d))},${yR(p10(sig40LA[i]))})`)
  .attr("d", sq()).attr("fill", "#f6e8c3").attr("stroke", "#efdba4").attr("stroke-width", 1.1);
gS.selectAll("path.a4020").data(bandLogM).join("path").attr("class", "a4020")
  .attr("transform", (d, i) => `translate(${xR(p10(d))},${yR(p10(sig4020A[i]))})`)
  .attr("d", tri()).attr("fill", seriesColors[2]).attr("stroke", seriesColors[2])
  .attr("stroke-width", 2).attr("stroke-linejoin", "round");
gS.selectAll("circle.et").data(bandLogM).join("circle").attr("class", "et")
  .attr("cx", d => xR(p10(d))).attr("cy", (d, i) => yR(p10(sig4020ET[i]))).attr("r", 1.8)
  .attr("fill", seriesColors[3]);

// LZ curves
const lineR = d3.line().x(d => xR(p10(d[0]))).y(d => yR(p10(d[1])));
[lzSD, lzSI].forEach(c => gR.append("path").attr("d", lineR(c)).attr("fill", "none")
  .attr("stroke", "#000").attr("stroke-width", 2.2).attr("stroke-linejoin", "round"));
gR.append("text").attr("transform", "translate(722,57) rotate(-10.5)").attr("font-size", 18.5).text("LZ spin-dependent");
gR.append("text").attr("transform", "translate(722,177.5) rotate(-10.5)").attr("font-size", 18.5).text("LZ spin-independent");

// legend right
const legR = gR.append("g");
const legRows = [48.5, 72.5, 97, 121];
legR.append("circle").attr("cx", 869).attr("cy", legRows[0]).attr("r", 2.5).attr("fill", "none")
  .attr("stroke", seriesColors[0]).attr("stroke-width", 1.3).attr("stroke-opacity", 0.5);
legR.append("path").attr("transform", `translate(869,${legRows[1]})`).attr("d", d3.symbol().type(d3.symbolSquare).size(64)())
  .attr("fill", "none").attr("stroke", "#efdba4").attr("stroke-width", 1.3);
legR.append("path").attr("transform", `translate(869,${legRows[2]})`).attr("d", d3.symbol().type(d3.symbolTriangle).size(18)())
  .attr("fill", seriesColors[2]).attr("fill-opacity", 0.75);
legR.append("circle").attr("cx", 869).attr("cy", legRows[3]).attr("r", 1.1).attr("fill", seriesColors[3]);
seriesNames.forEach((n, i) => legR.append("text").attr("x", 900).attr("y", legRows[i] + 6).attr("font-size", 18).text(n));

// spines & ticks
gR.append("rect").attr("x", rx0).attr("y", ry0).attr("width", rx1 - rx0).attr("height", ry1 - ry0)
  .attr("fill", "none").attr("stroke", "#000").attr("stroke-width", 2);
rightYTickExps.forEach(e => {
  const y = yR(p10(e));
  gR.append("line").attr("x1", rx0).attr("x2", rx0 + 6).attr("y1", y).attr("y2", y).attr("stroke", "#000").attr("stroke-width", 1.5);
  supText(gR, rx0 - 7, y + 7, e, "end", 18.5, 13, 8);
});
for (let d = 0; d < 4; d++) {
  for (let k = 2; k <= 9; k++) {
    const x = xR(k * p10(d));
    gR.append("line").attr("x1", x).attr("x2", x).attr("y1", ry1).attr("y2", ry1 - 3.5).attr("stroke", "#000").attr("stroke-width", 1.2);
  }
}
rightXTickExps.forEach(e => {
  const x = xR(p10(e));
  gR.append("line").attr("x1", x).attr("x2", x).attr("y1", ry1).attr("y2", ry1 - 6.5).attr("stroke", "#000").attr("stroke-width", 1.5);
  // keep the last label inside the page
  supText(gR, Math.min(x, 972), 315, e, "middle", 20, 14, 8);
});
// axis labels
const yl = gR.append("text").attr("transform", "translate(536,152) rotate(-90)").attr("text-anchor", "middle").attr("font-size", 20);
yl.append("tspan").attr("font-style", "italic").text("\u03c3");
yl.append("tspan").attr("font-style", "italic").attr("font-size", 14).attr("dy", 5).text("\u03c7");
yl.append("tspan").attr("dy", -5).text(" (cm");
yl.append("tspan").attr("font-size", 14).attr("dy", -8).text("\u22122");
yl.append("tspan").attr("dy", 8).text(")");
const xl = gR.append("text").attr("x", 786).attr("y", 338).attr("text-anchor", "middle").attr("font-size", 20);
xl.append("tspan").attr("font-style", "italic").text("m");
xl.append("tspan").attr("font-style", "italic").attr("font-size", 14).attr("dy", 5).text("\u03c7");
xl.append("tspan").attr("dy", -5).text(" (GeV)");
</script>
</body></html>
